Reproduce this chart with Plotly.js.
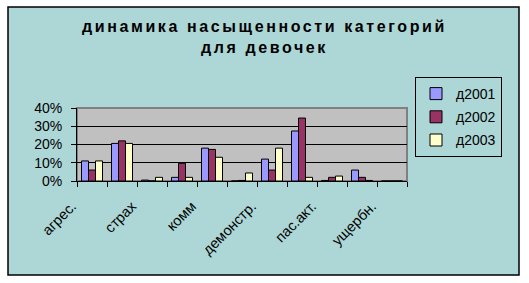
<!DOCTYPE html>
<html>
<head>
<meta charset="utf-8">
<script src="https://cdn.plot.ly/plotly-3.0.1.min.js"></script>
<style>html,body{margin:0;padding:0;background:#fff;}#chart{width:529px;height:283px;}</style>
</head>
<body>
<div id="chart"></div>
<script>
const categories = ['агрес.', '', 'страх', '', 'комм', '', 'демонстр.', '', 'пас.акт.', '', 'ущербн.'];
const seriesNames = ['д2001', 'д2002', 'д2003'];
const d2001 = [11, 20.6, 0.5, 2, 18, 0, 12, 27.4, 0.3, 6, 0];
const d2002 = [6, 22, 0, 9.7, 17.3, 0.3, 6, 34.5, 2, 2, 0];
const d2003 = [11, 20.6, 2, 2, 13, 4.4, 18, 2, 2.7, 0.3, 0];
const yTicks = [0, 10, 20, 30, 40];

const colors = ['#9999FF', '#993366', '#FFFFCC'];
const FONT = 'Liberation Sans, Arial, sans-serif';
const xIdx = categories.map((_, i) => i);
const boundaries = categories.map((_, i) => i - 0.5).concat([categories.length - 0.5]);

const traces = [d2001, d2002, d2003].map((vals, k) => ({
  type: 'bar',
  name: seriesNames[k],
  x: xIdx,
  y: vals,
  xaxis: 'x',
  yaxis: 'y',
  legendgroup: 'g' + k,
  marker: {color: colors[k], line: {color: '#000', width: 1}},
  hoverinfo: 'none'
}));
// invisible trace to activate the label axis
traces.push({type: 'scatter', x: xIdx, y: xIdx.map(() => null), xaxis: 'x2', yaxis: 'y', showlegend: false, hoverinfo: 'none'});

const L = 77, R = 407, T = 108, B = 181, W = 529, H = 283;
const px = v => (v - L) / (R - L);
const py = v => (B - v) / (B - T);

const layout = {
  width: W, height: H,
  margin: {l: L, r: W - R, t: T, b: H - B, pad: 0},
  paper_bgcolor: '#ffffff',
  plot_bgcolor: 'rgba(0,0,0,0)',
  font: {family: FONT, size: 14, color: '#000'},
  showlegend: true,
  barmode: 'group',
  bargap: 0.3,
  bargroupgap: 0,
  title: {
    text: '<b><span style="letter-spacing:2.6px">динамика насыщенности категорий</span><br><span style="letter-spacing:2.6px">для девочек</span></b>',
    font: {family: FONT, size: 16, color: '#000'},
    x: 0.5, xref: 'container', xanchor: 'center',
    y: 1 - 32 / H, yref: 'container', yanchor: 'top'
  },
  xaxis: {
    range: [-0.5, categories.length - 0.5],
    tickmode: 'array', tickvals: boundaries, ticktext: boundaries.map(() => ''),
    ticks: 'outside', ticklen: 5, tickcolor: '#000', tickwidth: 1,
    showline: true, linecolor: '#000', linewidth: 1,
    showgrid: false, zeroline: false, fixedrange: true
  },
  xaxis2: {
    overlaying: 'x', anchor: 'y', side: 'bottom',
    range: [-0.5, categories.length - 0.5],
    tickmode: 'array', tickvals: xIdx, ticktext: categories,
    ticks: '', tickangle: -45,
    ticklabelshift: -20, ticklabelstandoff: 13,
    tickfont: {family: FONT, size: 14.5, color: '#000'},
    showline: false, showgrid: false, zeroline: false, fixedrange: true
  },
  yaxis: {
    range: [0, 40],
    tickmode: 'array', tickvals: yTicks, ticktext: yTicks.map(v => v + '%'),
    ticks: 'outside', ticklen: 5, tickcolor: '#000', tickwidth: 1,
    ticklabelstandoff: 6,
    tickfont: {family: FONT, size: 14, color: '#000'},
    showline: true, linecolor: '#000', linewidth: 1,
    showgrid: true, gridcolor: '#000', gridwidth: 1,
    zeroline: false, fixedrange: true
  },
  legend: {
    x: px(415), y: py(77), xanchor: 'left', yanchor: 'top',
    bgcolor: '#ADD6D6', bordercolor: '#000', borderwidth: 1,
    font: {family: FONT, size: 14, color: '#000'},
    traceorder: 'grouped', tracegroupgap: 2, itemwidth: 30
  },
  shapes: [
    {type: 'rect', xref: 'paper', yref: 'paper', x0: px(8), x1: px(519), y0: py(275), y1: py(7),
     fillcolor: '#ADD6D6', line: {color: '#000', width: 1.5}, layer: 'below'},
    {type: 'rect', xref: 'paper', yref: 'paper', x0: 0, x1: 1, y0: 0, y1: 1,
     fillcolor: '#C0C0C0', line: {color: '#808080', width: 2}, layer: 'below'}
  ]
};

Plotly.newPlot('chart', traces, layout, {staticPlot: true, displayModeBar: false});
</script>
</body>
</html>
